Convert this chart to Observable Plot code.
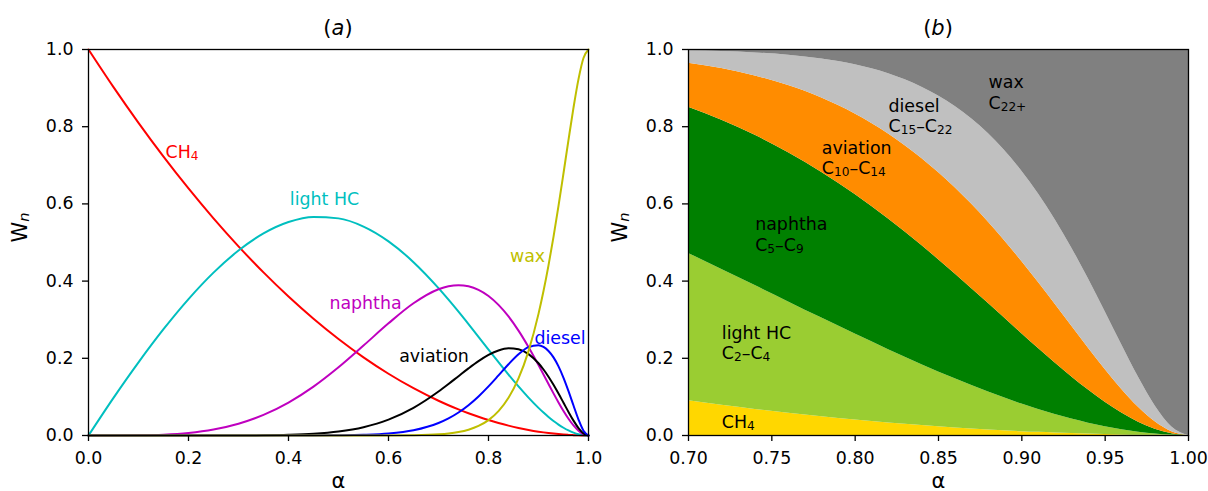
<!DOCTYPE html>
<html><head><meta charset="utf-8">
<script src="https://cdn.jsdelivr.net/npm/d3@7"></script>
<script src="https://cdn.jsdelivr.net/npm/@observablehq/plot@0.6"></script>
<style>
body{margin:0;background:#fff;}
#wrap{position:relative;width:1208px;height:491px;overflow:hidden;background:#fff;}
#wrap > svg{position:absolute;top:0;}
</style></head><body><div id="wrap"></div>
<script>
// chain-growth parameter alpha (sample points)
const alpha = [0,0.05,0.1,0.15,0.2,0.25,0.3,0.35,0.4,0.45,0.5,0.55,0.6,0.65,0.7,0.72,0.74,0.76,0.78,0.8,0.82,0.84,0.86,0.88,0.9,0.91,0.92,0.93,0.94,0.95,0.96,0.97,0.98,0.99,1.0];
const ch4      = [1,0.9025,0.81,0.7225,0.64,0.5625,0.49,0.4225,0.36,0.3025,0.25,0.2025,0.16,0.1225,0.09,0.0784,0.0676,0.0576,0.0484,0.04,0.0324,0.0256,0.0196,0.0144,0.01,0.0081,0.0064,0.0049,0.0036,0.0025,0.0016,0.0009,0.0004,0.0001,0];
const lightHC  = [0,0.0975,0.1895,0.2753,0.3533,0.4219,0.4792,0.5235,0.553,0.5663,0.5625,0.5413,0.503,0.4491,0.3818,0.3519,0.3207,0.2885,0.2557,0.2227,0.19,0.1579,0.1271,0.0981,0.0715,0.0593,0.048,0.0376,0.0283,0.0201,0.0132,0.0076,0.0034,0.0009,0];
const naphtha  = [0,0,0.0005,0.0022,0.0067,0.0156,0.0306,0.0535,0.0854,0.1267,0.1768,0.233,0.2906,0.3425,0.3789,0.3867,0.3895,0.3866,0.3774,0.3615,0.3385,0.3085,0.2718,0.2293,0.1824,0.1581,0.1335,0.1092,0.0857,0.0635,0.0434,0.026,0.0123,0.0033,0];
const aviation = [0,0,0,0,0,0,0.0001,0.0005,0.0017,0.0044,0.0103,0.0216,0.0412,0.0718,0.114,0.1335,0.1537,0.1738,0.1926,0.2087,0.2204,0.2259,0.2232,0.2107,0.1871,0.171,0.1524,0.1314,0.1086,0.0848,0.061,0.0385,0.0192,0.0054,0];
const diesel   = [0,0,0,0,0,0,0,0,0,0.0001,0.0005,0.0017,0.005,0.0135,0.0323,0.0443,0.0596,0.0785,0.1012,0.1273,0.1557,0.1846,0.2105,0.229,0.2339,0.2293,0.2189,0.2023,0.1791,0.1496,0.1151,0.0777,0.0414,0.0124,0];
const wax      = [0,0,0,0,0,0,0,0,0,0,0,0,0.0001,0.0007,0.003,0.0052,0.0089,0.015,0.0247,0.0398,0.063,0.0976,0.1478,0.2186,0.3151,0.3742,0.4408,0.5146,0.5947,0.6794,0.7658,0.8493,0.9233,0.978,1];

const seriesNames = ["CH4","light HC","naphtha","aviation","diesel","wax"];
const lineColors  = ["#ff0000","#00bfbf","#bf00bf","#000000","#0000ff","#bfbf00"];
const fillColors  = ["#ffd700","#9acd32","#008000","#ff8c00","#c0c0c0","#808080"];

const xTicksA = [0,0.2,0.4,0.6,0.8,1.0];
const xTicksB = [0.70,0.75,0.80,0.85,0.90,0.95,1.00];
const yTicks  = [0,0.2,0.4,0.6,0.8,1.0];

// panel (a) curve labels
const labA_text = ["CH₄","light HC","naphtha","aviation","diesel","wax"];
const labA_x    = [0.154,0.472,0.554,0.691,0.943,0.878];
const labA_y    = [0.733,0.611,0.342,0.205,0.251,0.464];
const labA_anchor = ["start","middle","middle","middle","middle","middle"];
// panel (b) band labels
const labB_text = ["CH₄","light HC\nC₂–C₄","naphtha\nC₅–C₉","aviation\nC₁₀–C₁₄","diesel\nC₁₅–C₂₂","wax\nC₂₂₊"];
const labB_x    = [0.72,0.72,0.74,0.78,0.82,0.88];
const labB_y    = [0.036,0.241,0.522,0.720,0.829,0.890];

const seriesValues = [ch4, lightHC, naphtha, aviation, diesel, wax];
const long = seriesNames.flatMap((s,i) => alpha.map((a,j) => ({alpha:a, value:seriesValues[i][j], series:s})));
const labelsA = labA_text.map((t,i) => ({text:t, x:labA_x[i], y:labA_y[i], series:seriesNames[i], anchor:labA_anchor[i]}));
const labelsB = labB_text.map((t,i) => ({text:t, x:labB_x[i], y:labB_y[i]}));

const FS = 17.4, FS_BIG = 21;
const style = {fontFamily:"'DejaVu Sans', sans-serif", fontSize:FS+"px", color:"#000", background:"transparent", overflow:"visible"};
const f1 = d3.format(".1f"), f2 = d3.format(".2f");

function commonAxes(xt, xf) {
  return [
    Plot.frame({stroke:"#000", strokeWidth:1.3}),
    Plot.axisX({ticks:xt, tickFormat:xf, tickSize:6, tickPadding:10, label:null, strokeWidth:1.3}),
    Plot.axisY({ticks:yTicks, tickFormat:f1, tickSize:6, tickPadding:9, label:null, strokeWidth:1.3}),
    Plot.text(["α"], {frameAnchor:"bottom", lineAnchor:"bottom", dy:52, text:d=>d, fontSize:FS_BIG, fill:"#000"}),
    Plot.text(["Wₙ"], {frameAnchor:"left", dx:-68, rotate:-90, text:d=>d, fontSize:FS_BIG, fill:"#000"})
  ];
}

const plotA = Plot.plot({
  width:600, height:491, marginLeft:88, marginRight:12, marginTop:49, marginBottom:56,
  style,
  x:{domain:[0,1]}, y:{domain:[0,1]},
  color:{domain:seriesNames, range:lineColors},
  marks:[
    Plot.line(long, {x:"alpha", y:"value", stroke:"series", curve:"monotone-x", strokeWidth:2}),
    ...commonAxes(xTicksA, f1),
    Plot.text(labelsA.filter(d => d.anchor === "start"), {x:"x", y:"y", text:"text", fill:"series", fontSize:FS, textAnchor:"start"}),
    Plot.text(labelsA.filter(d => d.anchor === "middle"), {x:"x", y:"y", text:"text", fill:"series", fontSize:FS})
  ]
});

const plotB = Plot.plot({
  width:600, height:491, marginLeft:88, marginRight:12, marginTop:49, marginBottom:56,
  style,
  x:{domain:[0.7,1]}, y:{domain:[0,1]},
  color:{domain:seriesNames, range:fillColors},
  marks:[
    Plot.areaY(long.filter(d => d.alpha >= 0.7), {x:"alpha", y:"value", fill:"series", order:seriesNames, curve:"monotone-x"}),
    ...commonAxes(xTicksB, f2),
    Plot.text(labelsB, {x:"x", y:"y", text:"text", textAnchor:"start", lineHeight:1.17, fill:"#000", fontSize:FS})
  ]
});

function addTitle(svg, letter) {
  const t = d3.select(svg).append("text")
    .attr("x", 338).attr("y", 35).attr("text-anchor","middle")
    .attr("font-size", FS_BIG).attr("fill","#000");
  t.append("tspan").text("(");
  t.append("tspan").attr("font-style","italic").text(letter);
  t.append("tspan").text(")");
}

// render unicode subscript characters as real (smaller, lowered) subscripts
const SUB = {"₀":"0","₁":"1","₂":"2","₃":"3","₄":"4","₅":"5","₆":"6","₇":"7","₈":"8","₉":"9","₊":"+","ₙ":"n"};
function fixSubs(svg) {
  const ns = "http://www.w3.org/2000/svg";
  const walker = document.createTreeWalker(svg, NodeFilter.SHOW_TEXT);
  const nodes = [];
  while (walker.nextNode()) nodes.push(walker.currentNode);
  for (const node of nodes) {
    const s = node.nodeValue;
    if (![...s].some(c => c in SUB)) continue;
    const frag = document.createDocumentFragment();
    let buf = "", isSub = false;
    const flush = () => {
      if (!buf) return;
      if (isSub) {
        const t = document.createElementNS(ns, "tspan");
        t.setAttribute("font-size", "70%");
        t.setAttribute("baseline-shift", "-0.17em");
        if (buf === "n") t.setAttribute("font-style", "italic");
        t.textContent = buf;
        frag.appendChild(t);
      } else frag.appendChild(document.createTextNode(buf));
      buf = "";
    };
    for (const c of s) {
      const sub = c in SUB;
      if (sub !== isSub) { flush(); isSub = sub; }
      buf += sub ? SUB[c] : c;
    }
    flush();
    node.parentNode.replaceChild(frag, node);
  }
}

addTitle(plotA, "a");
addTitle(plotB, "b");
fixSubs(plotA);
fixSubs(plotB);

const wrap = document.getElementById("wrap");
plotA.style.left = "0px";
plotB.style.left = "600px";
wrap.appendChild(plotB);
wrap.appendChild(plotA);
</script>
</body></html>
